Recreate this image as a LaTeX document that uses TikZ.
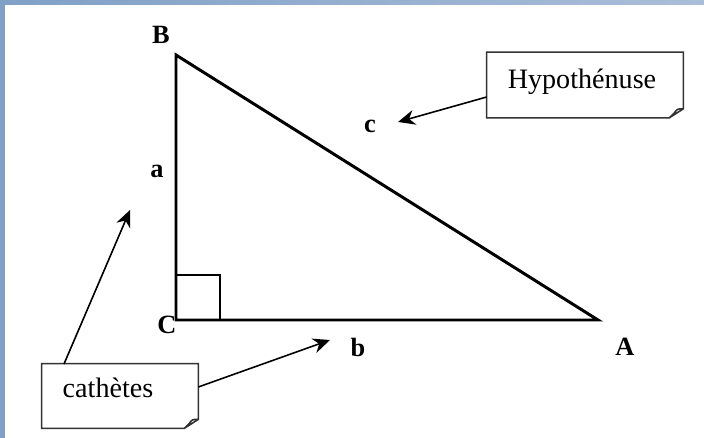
\documentclass[tikz,border=0pt]{standalone}
\usepackage{fontspec}
\setmainfont{Liberation Serif}
\usetikzlibrary{arrows.meta,calc}
\definecolor{framedark}{RGB}{128,160,198}
\definecolor{framelight}{RGB}{170,190,216}

\begin{document}
\begin{tikzpicture}[x=0.02cm, y=-0.02cm,
    side/.style={line width=1.7pt, line join=miter},
    vertex/.style={font=\fontsize{15}{17}\selectfont\bfseries, inner sep=0pt},
    note/.style={minimum width=3.92cm, minimum height=1.3cm, inner sep=0pt},
    notetext/.style={font=\fontsize{16}{18}\selectfont, inner sep=0pt},
    pointer/.style={line width=0.9pt, -{Stealth[length=3.4mm, width=3mm]}}
]
    \useasboundingbox (0,0) rectangle (704,438);
    \fill[white] (0,0) rectangle (704,438);

    % frame
    \shade[left color=framedark, right color=framelight] (0,0) rectangle (704,5);
    \fill[framedark] (0,0) rectangle (5,438);

    % triangle
    \coordinate (B) at (176,55);
    \coordinate (C) at (176,320);
    \coordinate (A) at (598,320);
    \draw[line width=0.9pt] ($(C)+(0,-45)$) -- ($(C)+(44,-45)$) -- ($(C)+(44,0)$);
    \draw[side] (B) -- (C) -- (A) -- cycle;

    % vertex and side labels
    \node[vertex] (lB) at (161,35) {B};
    \node[vertex] (lC) at (167,325) {C};
    \node[vertex] (lA) at (625,347) {A};
    \node[vertex] (la) at (157,171) {a};
    \node[vertex] (lb) at (358,347) {b};
    \node[vertex] (lc) at (370,126) {c};

    % notes
    \node[note] (hyp) at (585,85) {};
    \node[notetext] (hyptext) at (582,82) {Hypoth\'enuse};
    \node[note, minimum width=3.12cm, minimum height=1.28cm] (cat) at (120,396) {};
    \node[notetext] (cattext) at (108,388) {cath\`etes};
    \foreach \n in {hyp,cat}
        \draw[line width=0.9pt, black!80]
            (\n.north west) -- (\n.north east) -- ($(\n.south east)+(0,-9)$)
            -- ($(\n.south east)+(-14,0)$) -- (\n.south west) -- cycle
            ($(\n.south east)+(0,-9)$) .. controls ($(\n.south east)+(-6,-9)$) .. ($(\n.south east)+(-9,-5)$)
            -- ($(\n.south east)+(-14,0)$);

    % pointers
    \coordinate (hypend) at (398,122);
    \coordinate (aend) at (130,210);
    \coordinate (bend) at (330,340);
    \draw[pointer] (hyp.west |- 0,97) -- (hypend);
    \draw[pointer] (64,364) -- (aend);
    \draw[pointer] (cat.east |- 0,387) -- (bend);
\end{tikzpicture}
\end{document}
